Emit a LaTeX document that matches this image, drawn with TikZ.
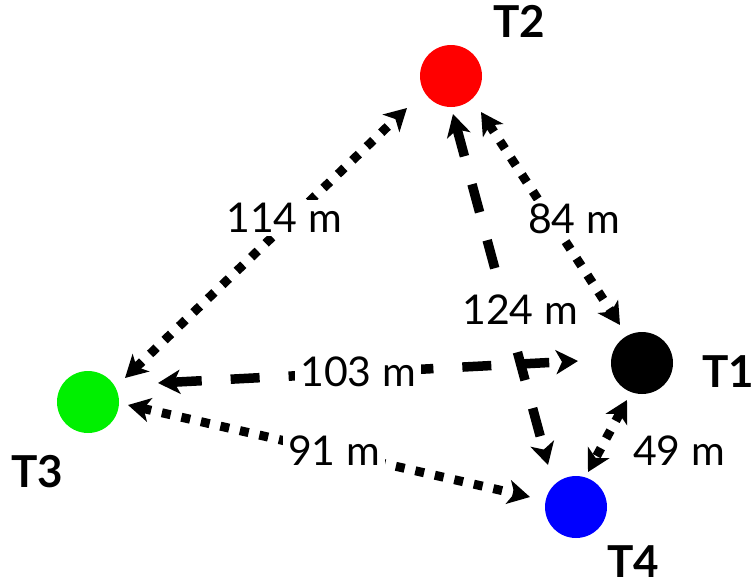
\documentclass[tikz,border=0pt]{standalone}
\usepackage{fontspec}
\setmainfont{Lato}
\usetikzlibrary{arrows.meta,calc}
\begin{document}
\begin{tikzpicture}[x=1pt,y=-1pt,
  station/.style={circle,minimum size=62pt,inner sep=0pt},
  tname/.style={font=\fontsize{44}{44}\selectfont\bfseries,inner sep=0pt},
  dist/.style={font=\fontsize{41}{41}\selectfont,fill=white,inner xsep=5pt,inner ysep=3pt},
  link/.style={line width=9pt,{Stealth[length=22pt,width=24pt,inset=6pt]}-{Stealth[length=22pt,width=24pt,inset=6pt]}},
  dotlink/.style={link,dash pattern=on 9pt off 11pt},
  dashlink/.style={link,line width=9.5pt,dash pattern=on 29pt off 29pt}]
\useasboundingbox (0,0) rectangle (756,587);
% stations
\node[station,fill={rgb,255:red,255;green,0;blue,0}] (T2) at (451,76) {};
\node[station,fill=black] (T1) at (642,363) {};
\node[station,fill={rgb,255:red,0;green,240;blue,0}] (T3) at (88,402) {};
\node[station,fill={rgb,255:red,0;green,0;blue,255}] (T4) at (576,507) {};
% names
\node[tname] (n2) at (519,21) {T2};
\node[tname] (n1) at (728,372) {T1};
\node[tname] (n3) at (37,472) {T3};
\node[tname] (n4) at (633,562) {T4};
% links
\draw[dotlink] ($(T3)+(37,-24)$) -- ($(T2)+(-44,32)$);
\draw[dotlink] ($(T2)+(30,36)$) -- ($(T1)+(-22,-38)$);
\draw[dashlink] ($(T2)+(2,38)$) -- ($(T4)+(-28,-42)$);
\draw[dashlink] ($(T3)+(70,-19)$) -- ($(T1)+(-64,-2)$);
\draw[dotlink] ($(T3)+(40,3)$) -- ($(T4)+(-46,-10)$);
\draw[dotlink] ($(T1)+(-15,37)$) -- ($(T4)+(12,-35)$);
% distances
\node[dist] (d32) at (284,218) {114 m};
\node[dist] (d21) at (574,219) {84 m};
\node[dist] (d24) at (520,310) {124 m};
\node[dist] (d31) at (358,372) {103 m};
\node[dist] (d34) at (334,451) {91 m};
\node[dist] (d14) at (679,451) {49 m};
\end{tikzpicture}
\end{document}
